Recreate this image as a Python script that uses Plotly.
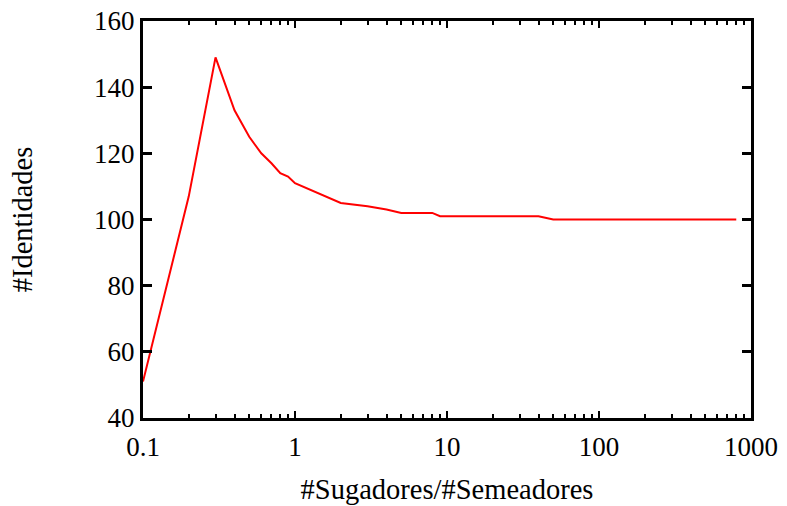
import plotly.graph_objects as go

ratio = [0.1, 0.2, 0.3, 0.4, 0.5, 0.6, 0.7, 0.8, 0.9, 1, 2, 3, 4, 5, 6, 7, 8, 9, 10,
         20, 30, 40, 50, 60, 70, 80, 90, 100, 200, 300, 400, 500, 600, 700, 800]
identidades = [51, 107, 149, 133, 125, 120, 117, 114, 113, 111, 105, 104, 103, 102, 102, 102, 102, 101, 101,
               101, 101, 101, 100, 100, 100, 100, 100, 100, 100, 100, 100, 100, 100, 100, 100]

x_tickvals = [0.1, 1, 10, 100, 1000]
x_ticktext = ["0.1", "1", "10", "100", "1000"]
x_minor_vals = [m * d for d in (0.1, 1, 10, 100) for m in range(2, 10)]
y_tickvals = [40, 60, 80, 100, 120, 140, 160]

tick_font = dict(family="Liberation Serif", size=27, color="black")
title_font = dict(family="Liberation Serif", size=28.5, color="black")

fig = go.Figure()
fig.add_trace(go.Scatter(x=ratio, y=identidades, mode="lines",
                         line=dict(color="#ff0000", width=2), showlegend=False))

fig.update_layout(
    width=787, height=506,
    margin=dict(l=143, r=36, t=21, b=88),
    paper_bgcolor="white", plot_bgcolor="white",
    font=tick_font,
    xaxis=dict(type="log", range=[-1, 3], tickmode="array", tickvals=x_tickvals, ticktext=x_ticktext,
               automargin=False,
               showgrid=False, zeroline=False,
               showline=True, linecolor="black", linewidth=3, mirror="allticks",
               ticks="inside", ticklen=7, tickwidth=2, tickcolor="black",
               minor=dict(tickmode="array", tickvals=x_minor_vals, ticks="inside", ticklen=4,
                          tickwidth=2, tickcolor="black", showgrid=False),
               ticklabelstandoff=3,
               title=dict(text="#Sugadores/#Semeadores", font=title_font, standoff=18),
               tickfont=tick_font),
    yaxis=dict(range=[40, 160], tickmode="array", tickvals=y_tickvals,
               automargin=False,
               showgrid=False, zeroline=False,
               showline=True, linecolor="black", linewidth=3, mirror="allticks",
               ticks="inside", ticklen=9, tickwidth=3, tickcolor="black",
               title=dict(text="#Identidades", font=title_font, standoff=54),
               tickfont=tick_font),
)

fig.write_html("out.html")
